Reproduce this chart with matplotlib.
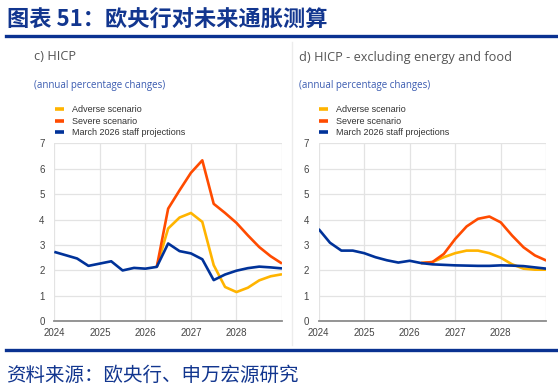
import numpy as np
import matplotlib
matplotlib.use("Agg")
import matplotlib.pyplot as plt
from matplotlib.lines import Line2D

# ---------------- data ----------------
year_ticks = [2024, 2025, 2026, 2027, 2028]
n_quarters = 21  # 2024Q1 .. 2029Q1 positions

hicp_staff = [2.73, 2.60, 2.47, 2.18, 2.27, 2.36, 2.00, 2.10, 2.07, 2.14, 3.06,
              2.76, 2.67, 2.44, 1.62, 1.84, 1.99, 2.09, 2.15, 2.12, 2.08]
hicp_adverse = [2.14, 3.65, 4.08, 4.26, 3.91, 2.21, 1.35, 1.15, 1.32, 1.61, 1.77, 1.85]
hicp_severe = [2.14, 4.43, 5.15, 5.84, 6.33, 4.62, 4.26, 3.87, 3.38, 2.92, 2.56, 2.27]

core_staff = [3.63, 3.09, 2.78, 2.78, 2.68, 2.52, 2.40, 2.31, 2.38, 2.29, 2.24,
              2.22, 2.20, 2.19, 2.18, 2.18, 2.20, 2.19, 2.17, 2.12, 2.07]
core_adverse = [2.29, 2.33, 2.52, 2.68, 2.78, 2.78, 2.68, 2.50, 2.24, 2.07, 2.03, 2.03]
core_severe = [2.29, 2.33, 2.65, 3.24, 3.73, 4.03, 4.12, 3.89, 3.37, 2.91, 2.59, 2.39]

scenario_start = 9  # scenarios branch off at this quarter index

labels = ["Adverse scenario", "Severe scenario", "March 2026 staff projections"]
panel_titles = ["c) HICP", "d) HICP - excluding energy and food"]
subtitle = "(annual percentage changes)"
main_title = "图表 51：欧央行对未来通胀测算"
source = "资料来源：欧央行、申万宏源研究"

# ---------------- style ----------------
W, H = 558, 386
C_ADV = "#FFB400"
C_SEV = "#FF4B00"
C_STAFF = "#003299"
NAVY = "#12368F"

plt.rcParams["font.family"] = ["Liberation Sans", "DejaVu Sans"]

fig = plt.figure(figsize=(W / 100, H / 100), dpi=100)
fig.patch.set_facecolor("white")

def fx(px):
    return px / W

def fy(py):
    return 1 - py / H

x_all = 2024 + np.arange(n_quarters) / 4.0
x_scen = x_all[scenario_start:]

panels = [
    (54.3, hicp_staff, hicp_adverse, hicp_severe, 34, 57),
    (318.6, core_staff, core_adverse, core_severe, 299, 321),
]
ax_w = 227.7
ax_top, ax_bot = 143.3, 321.3

for i, (x0, staff, adv, sev, tx, lx) in enumerate(panels):
    ax = fig.add_axes([fx(x0), fy(ax_bot), ax_w / W, (ax_bot - ax_top) / H])
    l_adv, = ax.plot(x_scen, adv, color=C_ADV, lw=1.9, solid_capstyle="butt", zorder=3)
    l_sev, = ax.plot(x_scen, sev, color=C_SEV, lw=1.9, solid_capstyle="butt", zorder=3)
    l_staff, = ax.plot(x_all, staff, color=C_STAFF, lw=1.9, solid_capstyle="butt", zorder=4)
    ax.set_xlim(2024, 2029)
    ax.set_ylim(0, 7)
    ax.set_xticks(year_ticks)
    ax.set_xticklabels([str(y) for y in year_ticks])
    ax.set_xticks([2029], minor=True)
    ax.set_yticks(range(0, 8))
    for s in ["top", "right", "left"]:
        ax.spines[s].set_visible(False)
    ax.spines["bottom"].set_color("#8c8c8c")
    ax.spines["bottom"].set_linewidth(1.3)
    ax.grid(True, which="both", color="#e3e3e3", lw=0.9)
    ax.set_axisbelow(True)
    ax.tick_params(axis="both", which="both", length=0, labelsize=7.0, colors="#444444")
    ax.tick_params(axis="x", pad=5)
    ax.tick_params(axis="y", pad=7)
    for t in ax.get_yticklabels() + ax.get_xticklabels():
        t.set_color("#444444")

    fig.text(fx(tx), fy(57), panel_titles[i], fontsize=9.2, color="#555555",
             family=["Open Sans", "DejaVu Sans"], va="center", ha="left")
    fig.text(fx(tx), fy(85.5), subtitle, fontsize=7.0, color="#3A5BB0",
             family=["Open Sans", "DejaVu Sans"], va="center", ha="left")
    leg = fig.legend([l_adv, l_sev, l_staff], labels, loc="upper left",
                     bbox_to_anchor=(fx(lx - 2), fy(105)), frameon=False,
                     fontsize=6.5, handlelength=1.05, handletextpad=0.85,
                     labelspacing=0.3, borderpad=0, borderaxespad=0)
    for t in leg.get_texts():
        t.set_color("#333333")
    for h in leg.legend_handles:
        h.set_linewidth(2.6)

# separator between panels
fig.add_artist(Line2D([fx(292), fx(292)], [fy(42), fy(345)], color="#ececec", lw=1.0))

# title and rules
fig.text(fx(7), fy(20), main_title, fontsize=16, fontweight="bold", color=NAVY,
         family=["Noto Sans CJK SC", "DejaVu Sans"], va="center", ha="left")
fig.add_artist(Line2D([fx(6), fx(558)], [fy(35.5), fy(35.5)], color="#0A3291", lw=2.4))
fig.add_artist(Line2D([fx(6), fx(558)], [fy(349.5), fy(349.5)], color="#0A3291", lw=2.4))
fig.text(fx(6), fy(375), source, fontsize=14, color=NAVY,
         family=["Noto Sans CJK SC", "DejaVu Sans"], va="center", ha="left")

fig.savefig("out.png", dpi=100, facecolor="white")
